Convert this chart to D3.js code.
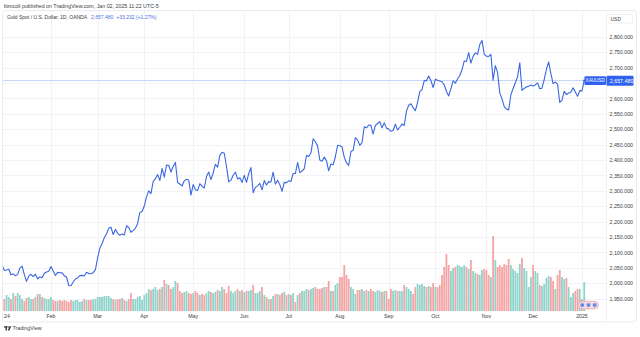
<!DOCTYPE html>
<html>
<head>
<meta charset="utf-8">
<script src="https://cdn.jsdelivr.net/npm/d3@7"></script>
<style>
  html, body { margin: 0; padding: 0; background: #fff; }
  svg { display: block; font-family: "Liberation Sans", Arial, sans-serif; }
</style>
</head>
<body>
<svg id="chart" width="640" height="337"></svg>
<script>
// Gold Spot / U.S. Dollar (XAUUSD), daily closes, Jan 2 2024 - Jan 2 2025 (weekday bars)
const closesJan = [2058.9,2041.8,2043.3,2045.3,2027.5,2030.6,2024.3,2028.9,2049.1,2055.9,2028.2,2006.3,2023.1,2029.2,2021.6,2029.5,2013.9,2020.9,2018.3,2032.5,2036.9,2039.3];
const closesFeb = [2054.6,2039.6,2025.1,2035.5,2034.3,2033.9,2024.3,2020.2,1992.8,1991.9,2004.3,2013.6,2017.3,2024.8,2025.7,2024.4,2035.8,2031.5,2030.7,2034.4,2044.2];
const closesMar = [2082.9,2114.5,2128.2,2148.1,2159.8,2178.9,2182.0,2158.2,2174.9,2162.5,2155.7,2160.3,2156.9,2186.6,2181.2,2165.3,2171.5,2178.4,2194.2,2229.9,2232.8];
const closesApr = [2250.6,2280.3,2299.9,2290.9,2329.7,2339.3,2352.5,2333.3,2372.6,2344.2,2383.2,2383.0,2361.1,2379.1,2392.1,2326.9,2322.0,2315.9,2332.4,2337.6,2335.2,2286.2];
const closesMay = [2320.2,2303.5,2301.2,2323.2,2314.4,2309.2,2346.3,2360.8,2336.3,2357.9,2385.6,2376.6,2415.0,2425.3,2421.8,2378.8,2329.0,2334.6,2350.6,2360.9,2338.6,2342.7,2327.3];
const closesJun = [2350.1,2327.4,2355.6,2375.3,2293.8,2311.3,2316.1,2324.0,2303.0,2333.1,2318.9,2329.8,2328.8,2360.5,2321.6,2334.0,2319.9,2298.1,2327.4,2326.6];
const closesJul = [2332.4,2329.9,2356.2,2356.0,2391.9,2359.1,2364.4,2371.6,2415.1,2411.3,2422.5,2469.0,2459.3,2445.8,2400.1,2396.0,2409.3,2397.8,2364.9,2387.1,2384.4,2410.5,2447.6];
const closesAug = [2446.0,2442.3,2409.4,2390.3,2382.7,2427.5,2431.4,2472.3,2465.3,2447.4,2456.1,2507.7,2504.4,2513.5,2512.3,2484.1,2512.2,2518.4,2524.6,2504.4,2520.5,2503.4];
const closesSep = [2500.4,2493.0,2495.6,2516.4,2497.5,2506.2,2516.5,2512.0,2558.4,2577.7,2582.2,2569.7,2559.8,2586.9,2621.8,2628.5,2657.6,2657.1,2672.4,2658.3,2634.6];
const closesOct = [2662.2,2658.8,2656.5,2653.7,2643.6,2622.1,2607.8,2630.9,2656.9,2649.4,2662.5,2674.1,2692.6,2721.1,2719.6,2748.4,2714.5,2736.2,2747.4,2742.6,2774.5,2787.8,2743.7];
const closesNov = [2736.4,2736.1,2742.4,2658.6,2706.0,2684.4,2617.9,2598.2,2572.9,2565.1,2562.1,2611.7,2631.8,2650.6,2669.9,2715.3,2625.9,2632.1,2637.3,2639.3,2643.1];
const closesDec = [2640.0,2643.4,2650.3,2631.3,2633.1,2660.8,2694.4,2718.2,2680.2,2648.0,2652.7,2646.1,2586.7,2594.4,2622.7,2612.7,2617.2,2619.5,2634.0,2620.6,2606.8,2625.0];
const closesJan25 = [2624.3,2657.48];
const prevClose = 2062.4; // last close of 2023

// Tick volume (thousands)
const volJan = [16,12,16,14,12,18,15,18,16,12,10,13,14,12,12,14,17,17,14,13,12,12];
const volFeb = [14,11,10,10,11,10,11,10,9,11,10,11,11,9,10,12,11,11,11,12,12];
const volMar = [14,14,14,15,15,15,13,12,11,12,12,13,11,10,12,18,12,12,14,15,11];
const volApr = [16,18,22,21,22,24,21,22,24,31,27,26,22,24,30,28,20,18,19,20,18,17];
const volMay = [18,20,18,16,17,16,18,20,19,18,19,21,20,24,22,18,25,20,18,20,22,20,21];
const volJun = [19,20,20,21,26,18,18,20,24,16,14,12,12,15,17,17,16,18,19,16];
const volJul = [17,16,18,9,16,18,20,20,22,21,22,23,24,22,22,23,24,24,30,20,20,26,28];
const volAug = [34,34,46,36,32,24,22,17,21,21,22,20,21,20,22,20,19,21,20,19,20,20];
const volSep = [12,22,20,21,20,20,20,26,24,22,20,17,24,27,26,27,25,24,25,24,28];
const volOct = [24,24,26,36,44,57,46,40,43,44,46,45,44,46,44,42,51,40,38,37,36,41,42];
const volNov = [41,36,34,75,51,44,46,44,47,46,52,46,42,40,38,47,53,43,40,24,34];
const volDec = [46,40,38,26,25,27,33,35,34,30,22,36,41,34,32,33,24,14,18,20,22,22];
const volJan25 = [12,29];

const timeLabels = ["24","Feb","Mar","Apr","May","Jun","Jul","Aug","Sep","Oct","Nov","Dec","2025"];
const priceTicks = [1950,2000,2050,2100,2150,2200,2250,2300,2350,2400,2450,2500,2550,2600,2650,2700,2750,2800];

const closes = [].concat(closesJan, closesFeb, closesMar, closesApr, closesMay, closesJun,
  closesJul, closesAug, closesSep, closesOct, closesNov, closesDec, closesJan25);
const volumes = [].concat(volJan, volFeb, volMar, volApr, volMay, volJun,
  volJul, volAug, volSep, volOct, volNov, volDec, volJan25);

// weekday trading sessions
const dates = d3.timeDay.range(new Date(2024, 0, 2), new Date(2025, 0, 3))
  .filter(d => d.getDay() !== 0 && d.getDay() !== 6);

const bars = closes.map((c, i) => ({
  i, date: dates[i], close: c, vol: volumes[i],
  up: c >= (i === 0 ? prevClose : closes[i - 1])
}));

const svg = d3.select("#chart");
const panel = { x0: 2.5, y0: 10.5, x1: 636.5, y1: 322 };
const plotRight = 606.5, plotBottom = 311;

const x = d3.scaleLinear().domain([0, closes.length - 1]).range([2.1, 584.2]);
const y = d3.scaleLinear().domain([1950, 2800]).range([298.7, 36.7]);
const yVol = d3.scaleLinear().domain([0, d3.max(volumes)]).range([plotBottom, 236]);

const last = closes[closes.length - 1];
const ly = y(last);

// header line
svg.append("text").attr("x", 4).attr("y", 7.5)
  .attr("font-size", 5.3).attr("fill", "#3a3d45")
  .text("bimcoli published on TradingView.com, Jan 02, 2025 11:22 UTC-5");

// panel frame
svg.append("rect")
  .attr("x", panel.x0).attr("y", panel.y0)
  .attr("width", panel.x1 - panel.x0).attr("height", panel.y1 - panel.y0)
  .attr("rx", 3).attr("fill", "#fff").attr("stroke", "#e3e5ea").attr("stroke-width", 0.8);

const defs = svg.append("defs");
defs.append("clipPath").attr("id", "plotClip").append("rect")
  .attr("x", panel.x0 + 0.5).attr("y", panel.y0 + 0.5)
  .attr("width", plotRight - panel.x0 - 0.5).attr("height", plotBottom - panel.y0);

// month boundaries (first bar of each month)
const monthStarts = bars.filter((b, i) => i === 0 || b.date.getMonth() !== bars[i - 1].date.getMonth());

const plot = svg.append("g").attr("clip-path", "url(#plotClip)");

// grid
plot.append("g").selectAll("line").data(priceTicks).join("line")
  .attr("x1", panel.x0).attr("x2", plotRight)
  .attr("y1", d => Math.round(y(d)) + 0.5).attr("y2", d => Math.round(y(d)) + 0.5)
  .attr("stroke", "#f1f3f6").attr("stroke-width", 1);
plot.append("g").selectAll("line").data(monthStarts.slice(1)).join("line")
  .attr("x1", d => Math.round(x(d.i)) + 0.5).attr("x2", d => Math.round(x(d.i)) + 0.5)
  .attr("y1", panel.y0).attr("y2", plotBottom)
  .attr("stroke", "#f1f3f6").attr("stroke-width", 1);

// volume bars
plot.append("g").selectAll("rect").data(bars).join("rect")
  .attr("x", d => x(d.i) - 0.9)
  .attr("width", 1.8)
  .attr("y", d => yVol(d.vol))
  .attr("height", d => plotBottom - yVol(d.vol))
  .attr("fill", d => d.up ? "#8fd4cb" : "#f6a4a3");

// last price line
plot.append("line")
  .attr("x1", panel.x0).attr("x2", plotRight)
  .attr("y1", ly).attr("y2", ly)
  .attr("stroke", "#a9bdf3").attr("stroke-width", 0.7);

// price line
plot.append("path").datum(bars)
  .attr("fill", "none")
  .attr("stroke", "#3a66e2")
  .attr("stroke-width", 1.1)
  .attr("stroke-linejoin", "round")
  .attr("d", d3.line().x(d => x(d.i)).y(d => y(d.close)));

plot.append("circle").attr("cx", x(closes.length - 1)).attr("cy", ly)
  .attr("r", 1.1).attr("fill", "#3a66e2");

// legend
const legend = svg.append("text").attr("x", 7).attr("y", 18.5).attr("font-size", 5);
legend.append("tspan").attr("fill", "#3a3d45").text("Gold Spot / U.S. Dollar, 1D, OANDA");
legend.append("tspan").attr("dx", 4).attr("fill", "#4a6fe3").text(d3.format(",.3f")(last));
legend.append("tspan").attr("dx", 3).attr("fill", "#4a6fe3").text("+33.232 (+1.27%)");

// price axis separator
svg.append("line").attr("x1", plotRight).attr("x2", plotRight)
  .attr("y1", panel.y0).attr("y2", panel.y1)
  .attr("stroke", "#eceef2").attr("stroke-width", 0.8);

// currency box
svg.append("rect").attr("x", 606.5).attr("y", 14.5).attr("width", 26).attr("height", 8.5)
  .attr("rx", 1.5).attr("fill", "#fff").attr("stroke", "#e6e8ec").attr("stroke-width", 0.6);
svg.append("text").attr("x", 610.5).attr("y", 20.7).attr("font-size", 5)
  .attr("fill", "#3a3d45").text("USD");

// price axis; labels hidden behind the last-price tag are skipped
const axisTicks = priceTicks.filter(t => Math.abs(y(t) - ly) > 8);
const yAxis = d3.axisRight(y).tickValues(axisTicks).tickFormat(d3.format(",.3f"))
  .tickSize(0).tickPadding(0);
const yAxisG = svg.append("g").attr("transform", "translate(609.5,0)").call(yAxis);
yAxisG.select(".domain").remove();
yAxisG.selectAll("text").attr("font-size", 5.3).attr("fill", "#3a3d45")
  .attr("font-family", "Liberation Sans, Arial, sans-serif");

// last price tags
svg.append("rect").attr("x", 584.5).attr("y", ly - 4.3).attr("width", 21.5).attr("height", 8.6)
  .attr("rx", 1).attr("fill", "#2f62ee");
svg.append("text").attr("x", 595.2).attr("y", ly + 1.7).attr("text-anchor", "middle")
  .attr("font-size", 4.6).attr("fill", "#fff").text("XAUUSD");
svg.append("rect").attr("x", 606.5).attr("y", ly - 5).attr("width", 27).attr("height", 10)
  .attr("rx", 1).attr("fill", "#2f62ee");
svg.append("text").attr("x", 609.8).attr("y", ly + 1.9)
  .attr("font-size", 5.3).attr("fill", "#fff").text(d3.format(",.3f")(last));

// event markers near the year boundary
const evX = x(dates.length - 2);
svg.append("rect").attr("x", evX - 3.5).attr("y", 301.3).attr("width", 20).attr("height", 7.6)
  .attr("rx", 3.8).attr("fill", "#fbd9dc").attr("stroke", "#ef8e98").attr("stroke-width", 0.6);
[0, 6.2, 12.4].forEach(dx => {
  svg.append("circle").attr("cx", evX + 0.3 + dx).attr("cy", 305.1).attr("r", 2.4)
    .attr("fill", "#6a8ce6").attr("stroke", "#fff").attr("stroke-width", 0.5);
});

// time axis labels
svg.append("g").selectAll("text").data(monthStarts).join("text")
  .attr("x", (d, k) => k === 0 ? 4 : x(d.i))
  .attr("y", 317.8)
  .attr("text-anchor", (d, k) => k === 0 ? "start" : "middle")
  .attr("font-size", 5.2).attr("fill", "#3a3d45")
  .text((d, k) => timeLabels[k]);

// footer logo
const logo = svg.append("g").attr("fill", "#2a2e39");
logo.append("rect").attr("x", 4).attr("y", 326.3).attr("width", 3.2).attr("height", 1.2);
logo.append("rect").attr("x", 5.6).attr("y", 326.3).attr("width", 1.3).attr("height", 4.2);
logo.append("circle").attr("cx", 8.2).attr("cy", 327).attr("r", 0.7);
logo.append("path").attr("d", "M9.6,326.3 L11.2,326.3 L9.4,330.5 L7.8,330.5 Z");
svg.append("text").attr("x", 12.5).attr("y", 330.4).attr("font-size", 5.3)
  .attr("fill", "#3a3d45").text("TradingView");
</script>
</body>
</html>
